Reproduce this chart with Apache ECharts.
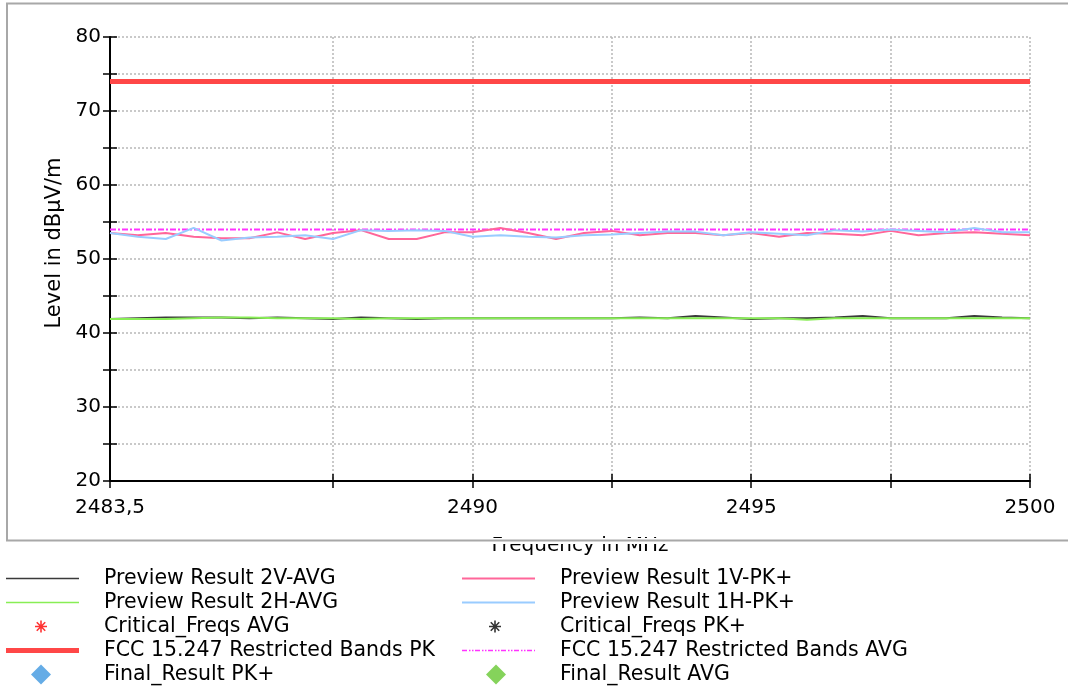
<!DOCTYPE html>
<html>
<head>
<meta charset="utf-8">
<script src="https://cdn.jsdelivr.net/npm/echarts@6/dist/echarts.min.js"></script>
<style>html,body{margin:0;padding:0;background:#fff;}#c{width:1068px;height:690px;}</style>
</head>
<body>
<div id="c"></div>
<script>
// ---- data ----
const freqs = [2483.5, 2484, 2484.5, 2485, 2485.5, 2486, 2486.5, 2487, 2487.5, 2488, 2488.5, 2489, 2489.5, 2490,
  2490.5, 2491, 2491.5, 2492, 2492.5, 2493, 2493.5, 2494, 2494.5, 2495, 2495.5, 2496, 2496.5, 2497, 2497.5, 2498,
  2498.5, 2499, 2499.5, 2500];
const pv1V_PK = [53.5, 53.2, 53.5, 53.0, 52.8, 52.8, 53.6, 52.7, 53.5, 53.9, 52.7, 52.7, 53.6, 53.6,
  54.2, 53.5, 52.7, 53.5, 53.8, 53.2, 53.5, 53.5, 53.2, 53.5, 53.0, 53.5, 53.4, 53.2, 53.8, 53.2,
  53.5, 53.6, 53.4, 53.2];
const pv1H_PK = [53.5, 53.0, 52.7, 54.2, 52.5, 52.9, 53.0, 53.2, 52.7, 53.9, 53.8, 53.9, 53.8, 53.0,
  53.2, 53.0, 52.9, 53.2, 53.3, 53.5, 53.7, 53.7, 53.2, 53.6, 53.4, 53.2, 53.9, 53.7, 54.0, 53.8,
  53.6, 54.2, 53.6, 53.6];
const pv2V_AVG = [41.9, 42.0, 42.1, 42.1, 42.1, 42.0, 42.1, 42.0, 41.9, 42.1, 42.0, 41.9, 42.0, 42.0,
  42.0, 42.0, 42.0, 42.0, 42.0, 42.1, 42.0, 42.3, 42.1, 41.9, 42.0, 42.0, 42.1, 42.3, 42.0, 42.0,
  42.0, 42.3, 42.1, 42.0];
const pv2H_AVG = [41.9, 41.9, 41.9, 42.0, 42.1, 42.1, 42.0, 42.0, 42.0, 41.9, 42.0, 42.0, 42.0, 42.0,
  42.0, 42.0, 42.0, 42.0, 42.0, 42.0, 42.0, 42.0, 42.0, 42.0, 42.0, 41.8, 42.0, 42.0, 42.0, 42.0,
  42.0, 42.0, 42.0, 42.0];
const limitFreqs = [2483.5, 2500];
const limitPK = [74, 74];
const limitAVG = [54, 54];
const criticalAVG = [];
const criticalPK = [];
const finalPK = [];
const finalAVG = [];
const xTickValues = [2483.5, 2487.5, 2490, 2492.5, 2495, 2497.5, 2500];
const xLabelValues = [2483.5, 2490, 2495, 2500];
const yMin = 20, yMax = 80, yStep = 5;

const N = {
  v2: 'Preview Result 2V-AVG', h2: 'Preview Result 2H-AVG', v1: 'Preview Result 1V-PK+', h1: 'Preview Result 1H-PK+',
  cA: 'Critical_Freqs AVG', cP: 'Critical_Freqs PK+', lP: 'FCC 15.247 Restricted Bands PK', lA: 'FCC 15.247 Restricted Bands AVG',
  fP: 'Final_Result PK+', fA: 'Final_Result AVG'
};
const C = { v2: '#3a3a3a', h2: '#88ee55', v1: '#ff6699', h1: '#99ccff', cA: '#ff0000', cP: '#000000', lP: '#ff4747', lA: '#ff33ff', fP: '#3f97e0', fA: '#66c832' };
const FONT = 'DejaVu Sans';
const FS = 20;
const LFS = 20.5;
const ASTER = 'path://M-0.8,-6 L0.8,-6 L0.8,6 L-0.8,6 Z M-6,-0.8 L6,-0.8 L6,0.8 L-6,0.8 Z M-4.81,-3.67 L-3.67,-4.81 L4.81,3.67 L3.67,4.81 Z M3.67,-4.81 L4.81,-3.67 L-3.67,4.81 L-4.81,3.67 Z';

// dash-dot-dot legend glyph (styling only)
function dashIcon(w, h) {
  let p = '';
  for (let x = 0; x < w; x += 13) {
    [[0, 5], [7, 1.5], [10, 1.5]].forEach(([o, l]) => {
      const a = x + o, b = Math.min(x + o + l, w);
      if (a < w) p += 'M' + a + ',0 L' + b + ',0 L' + b + ',' + h + ' L' + a + ',' + h + ' Z ';
    });
  }
  return 'path://' + p;
}

const pair = (xs, ys) => xs.map((x, i) => [x, ys[i]]);

// legend layout: icon box [left, width, height], text starts at textX
const legendRows = [577, 601, 625, 649, 673];
const colText = [104, 560];
const legendSpec = [
  { k: 'v2', row: 0, col: 0, icon: 'rect', l: 6, w: 73, h: 1.5 },
  { k: 'h2', row: 1, col: 0, icon: 'rect', l: 6, w: 73, h: 1.5 },
  { k: 'cA', row: 2, col: 0, icon: ASTER, l: 35, w: 12, h: 12 },
  { k: 'lP', row: 3, col: 0, icon: 'rect', l: 6, w: 73, h: 5 },
  { k: 'fP', row: 4, col: 0, icon: 'diamond', l: 31, w: 20, h: 20 },
  { k: 'v1', row: 0, col: 1, icon: 'rect', l: 462, w: 73, h: 2 },
  { k: 'h1', row: 1, col: 1, icon: 'rect', l: 462, w: 73, h: 2 },
  { k: 'cP', row: 2, col: 1, icon: ASTER, l: 489, w: 12, h: 12 },
  { k: 'lA', row: 3, col: 1, icon: dashIcon(73, 1.5), l: 462, w: 73, h: 1.5 },
  { k: 'fA', row: 4, col: 1, icon: 'diamond', l: 486, w: 20, h: 20 }
];
const legends = legendSpec.map(s => ({
  data: [{ name: N[s.k], icon: s.icon }], orient: 'vertical', padding: 0,
  left: s.l, top: legendRows[s.row] - 9,
  itemWidth: s.w, itemHeight: s.h, selectedMode: false, symbolKeepAspect: false,
  textStyle: { fontFamily: FONT, fontSize: LFS, color: '#000', lineHeight: 20,
    padding: [0, 0, 0, colText[s.col] - s.l - s.w - 5] }
}));

const chart = echarts.init(document.getElementById('c'), null, { renderer: 'canvas' });
const axisLineStyle = { color: '#000', width: 2 };
const gridLine = { show: true, lineStyle: { color: '#b8b8b8', width: 1.5, type: [2, 2] } };
const option = {
  backgroundColor: '#fff',
  animation: false,
  grid: { left: 110, right: 38, top: 37, bottom: 209, containLabel: false },
  legend: legends,
  xAxis: [{
    type: 'value', min: 2483.5, max: 2500, position: 'bottom',
    name: 'Frequency in MHz', nameLocation: 'middle', nameGap: 55,
    nameTextStyle: { fontFamily: FONT, fontSize: FS, color: '#000', padding: [0, 0, 0, 20] },
    axisLine: { lineStyle: axisLineStyle },
    axisTick: { show: true, inside: false, length: 7, lineStyle: { color: '#000', width: 1.5 }, customValues: xTickValues },
    axisLabel: { customValues: xLabelValues, margin: 17, fontFamily: FONT, fontSize: FS, color: '#000',
      formatter: v => String(v).replace('.', ',') },
    splitLine: gridLine
  }, {
    type: 'value', min: 2483.5, max: 2500, position: 'bottom', offset: 0,
    axisLine: { show: false },
    axisTick: { show: true, inside: true, length: 7, lineStyle: { color: '#000', width: 1.5 }, customValues: xTickValues },
    axisLabel: { show: false },
    splitLine: { show: false }
  }],
  yAxis: [{
    type: 'value', min: yMin, max: yMax, interval: yStep, position: 'left',
    name: 'Level in dBµV/m', nameLocation: 'middle', nameGap: 45, nameRotate: 90,
    nameTextStyle: { fontFamily: FONT, fontSize: 21, color: '#000', padding: [0, 0, 0, 32] },
    axisLine: { lineStyle: axisLineStyle },
    axisTick: { show: true, inside: false, length: 7, lineStyle: { color: '#000', width: 1.5 } },
    axisLabel: { margin: 9, fontFamily: FONT, fontSize: FS, color: '#000', formatter: v => (v % 10 === 0 ? String(v) : '') },
    splitLine: gridLine
  }, {
    type: 'value', min: yMin, max: yMax, interval: yStep, position: 'left', offset: 0,
    axisLine: { show: false },
    axisTick: { show: true, inside: true, length: 7, lineStyle: { color: '#000', width: 1.5 } },
    axisLabel: { show: false },
    splitLine: { show: false }
  }],
  series: [
    { name: N.lP, type: 'line', symbol: 'none', data: pair(limitFreqs, limitPK), lineStyle: { color: C.lP, width: 5 }, itemStyle: { color: C.lP } },
    { name: N.lA, type: 'line', symbol: 'none', data: pair(limitFreqs, limitAVG), lineStyle: { color: C.lA, width: 2, type: [6, 2, 2, 2] }, itemStyle: { color: C.lA } },
    { name: N.v2, type: 'line', symbol: 'none', data: pair(freqs, pv2V_AVG), lineStyle: { color: C.v2, width: 2 }, itemStyle: { color: C.v2 } },
    { name: N.h2, type: 'line', symbol: 'none', data: pair(freqs, pv2H_AVG), lineStyle: { color: C.h2, width: 2 }, itemStyle: { color: C.h2 } },
    { name: N.v1, type: 'line', symbol: 'none', data: pair(freqs, pv1V_PK), lineStyle: { color: C.v1, width: 2 }, itemStyle: { color: C.v1 } },
    { name: N.h1, type: 'line', symbol: 'none', data: pair(freqs, pv1H_PK), lineStyle: { color: C.h1, width: 2 }, itemStyle: { color: C.h1 } },
    { name: N.cA, type: 'scatter', symbol: ASTER, data: criticalAVG, itemStyle: { color: C.cA } },
    { name: N.cP, type: 'scatter', symbol: ASTER, data: criticalPK, itemStyle: { color: C.cP } },
    { name: N.fP, type: 'scatter', symbol: 'diamond', data: finalPK, itemStyle: { color: C.fP } },
    { name: N.fA, type: 'scatter', symbol: 'diamond', data: finalAVG, itemStyle: { color: C.fA } }
  ],
  graphic: [
    { type: 'rect', z: 100, silent: true, shape: { x: 0, y: 538, width: 1068, height: 6 }, style: { fill: '#fff' } },
    { type: 'rect', z: 101, silent: true, shape: { x: 7, y: 3.5, width: 1070, height: 537 }, style: { fill: 'none', stroke: '#a8a8a8', lineWidth: 2 } }
  ]
};
chart.setOption(option);
</script>
</body>
</html>
